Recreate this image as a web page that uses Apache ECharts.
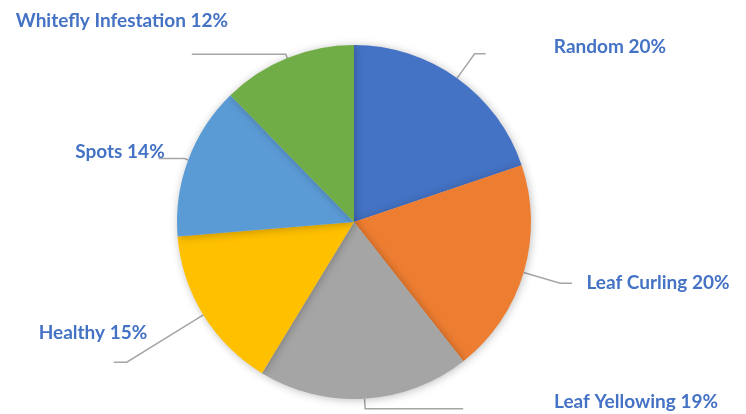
<!DOCTYPE html>
<html>
<head>
<meta charset="utf-8">
<script src="https://cdn.jsdelivr.net/npm/echarts@6/dist/echarts.min.js"></script>
<style>html,body{margin:0;padding:0;background:#fff}#c{width:746px;height:414px}</style>
</head>
<body>
<div id="c"></div>
<script>
// Data
const categories = ['Random', 'Leaf Curling', 'Leaf Yellowing', 'Healthy', 'Spots', 'Whitefly Infestation'];
const values = [19.8, 19.6, 19.3, 15.0, 14.0, 12.3];
const colors = ['#4472C4', '#ED7D31', '#A5A5A5', '#FFC000', '#5B9BD5', '#70AD47'];

// Label placement (text centres) and leader-line lengths
const labelPos = [[610, 47], [658, 283], [636, 402], [93, 333], [120, 152], [122, 21]];
const lineLen = [30, 38, 10, 90, 4, 4];
const lineLen2 = [11, 12, 98, 13, 26, 94];

const chart = echarts.init(document.getElementById('c'), null, { renderer: 'canvas' });
chart.setOption({
  backgroundColor: '#ffffff',
  animation: false,
  series: [{
    type: 'pie',
    center: [354, 222],
    radius: 177,
    startAngle: 90,
    clockwise: true,
    percentPrecision: 0,
    avoidLabelOverlap: false,
    itemStyle: { shadowBlur: 8, shadowColor: 'rgba(0,0,0,0.25)', shadowOffsetX: 1, shadowOffsetY: 1 },
    label: {
      show: true,
      position: 'outside',
      formatter: '{b} {d}%',
      color: '#4472C4',
      fontFamily: 'Lato',
      fontWeight: 'bold',
      fontSize: 19
    },
    labelLine: { show: true, smooth: false, lineStyle: { color: '#A6A6A6', width: 1.5 } },
    emphasis: { disabled: true },
    labelLayout: function (params) {
      const p = labelPos[params.dataIndex];
      return { x: p[0], y: p[1], align: 'center', verticalAlign: 'middle', labelLinePoints: params.labelLinePoints };
    },
    data: categories.map((name, i) => ({
      name: name,
      value: values[i],
      itemStyle: { color: colors[i] },
      labelLine: { length: lineLen[i], length2: lineLen2[i] }
    }))
  }]
});
</script>
</body>
</html>
